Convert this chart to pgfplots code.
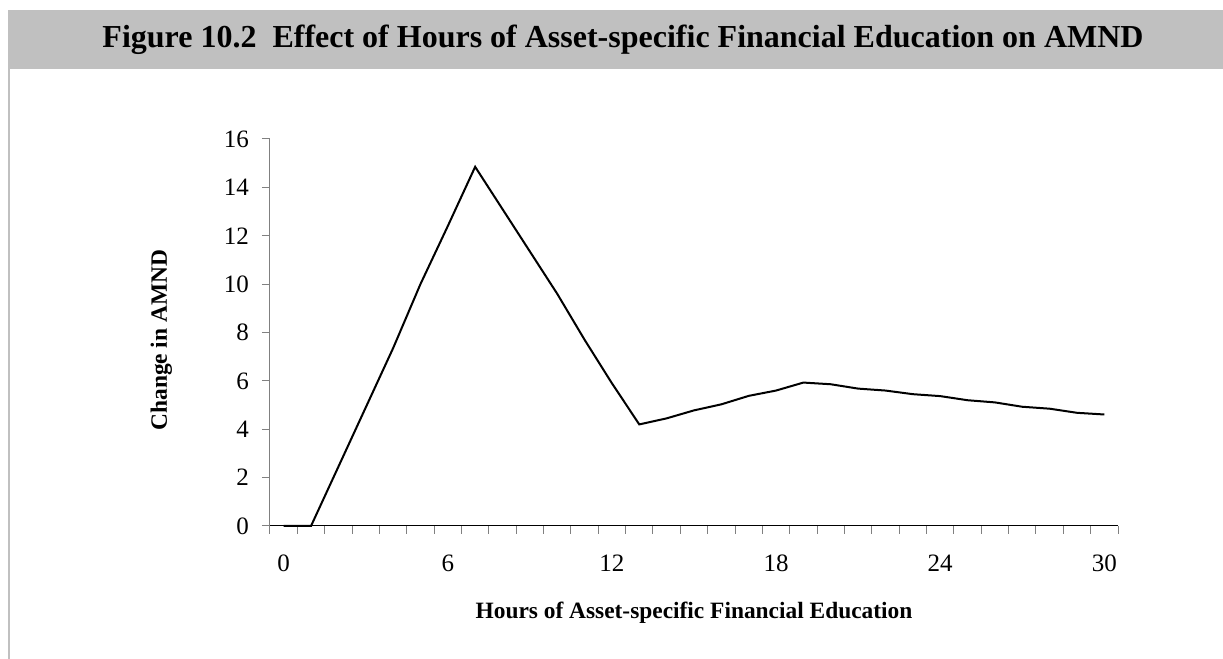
\documentclass[border=0pt]{standalone}
\usepackage{pgfplots}
\pgfplotsset{compat=1.18}
\usepackage{fontspec}
\setmainfont{Liberation Serif}
\definecolor{band}{HTML}{C0C0C0}
\definecolor{axgray}{HTML}{808080}
\begin{document}
\begin{tikzpicture}
\path[use as bounding box] (0,0) rectangle (611.5pt,329.5pt);
\fill[band] (4pt,295pt) rectangle (611.5pt,324.5pt);
\draw[band,line width=1pt] (4.5pt,0pt) -- (4.5pt,295pt);
\node[font=\fontsize{16}{19}\selectfont\bfseries] at (311.5pt,309.5pt) {Figure 10.2\ \ Effect of Hours of Asset-specific Financial Education on AMND};
\begin{axis}[
  at={(135pt,66.5pt)}, anchor=south west,
  scale only axis, width=424pt, height=193.5pt,
  xmin=-0.5, xmax=30.5, ymin=0, ymax=16,
  axis x line=bottom, axis y line=left,
  x axis line style={-, black, line width=0.5pt},
  y axis line style={-, axgray, line width=0.5pt},
  xtick={-0.5,0.5,...,30.5}, xticklabels={},
  extra x ticks={0,6,12,18,24,30},
  extra x tick labels={0,6,12,18,24,30},
  extra x tick style={major tick length=0pt, xticklabel style={yshift=-11pt}},
  ytick={0,2,...,16},
  tick align=outside, major tick length=4pt,
  tick style={axgray, line width=0.5pt},
  tick label style={font=\fontsize{12.5}{14}\selectfont},
  /pgf/number format/assume math mode=true,
  yticklabel style={xshift=-3pt},
  xlabel={Hours of Asset-specific Financial Education},
  ylabel={Change in AMND},
  label style={font=\fontsize{11.7}{14}\selectfont\bfseries},
  xlabel style={at={(axis description cs:0.5,-0.225)}, anchor=center},
  ylabel style={at={(axis description cs:-0.128,0.48)}, anchor=center},
  clip=false,
]
\addplot[black, line width=1pt, mark=none] coordinates {
(0,0) (1,0) (2,2.45) (3,4.9) (4,7.35) (5,10.0) (6,12.4) (7,14.85)
(8,13.1) (9,11.35) (10,9.6) (11,7.7) (12,5.9) (13,4.2) (14,4.45)
(15,4.78) (16,5.03) (17,5.38) (18,5.6) (19,5.93) (20,5.86) (21,5.68)
(22,5.6) (23,5.45) (24,5.37) (25,5.2) (26,5.11) (27,4.93) (28,4.85)
(29,4.68) (30,4.61)
};
\end{axis}
\end{tikzpicture}
\end{document}
